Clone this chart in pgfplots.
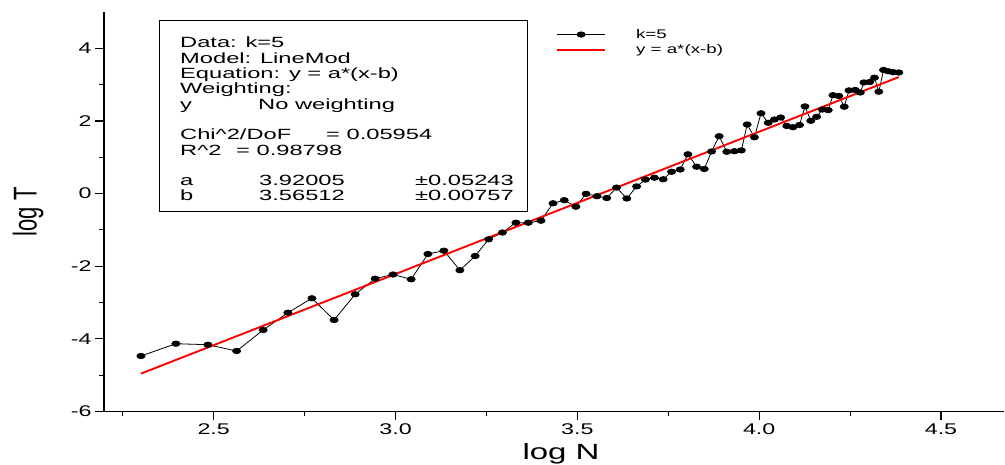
\documentclass[border=0pt]{standalone}
\usepackage{fontspec}
\setmainfont{Liberation Sans}
\usepackage{graphicx}
\usepackage{pgfplots}
\pgfplotsset{compat=1.18}
\newcommand{\hs}[1]{\scalebox{1.5}[1]{#1}}
\newcommand{\hb}[1]{\scalebox{1.6}[1]{#1}}
\newcommand{\bt}[3]{\node[anchor=base west, inner sep=0pt, font=\fontsize{14.8}{16}\selectfont] at ({#1pt-104pt},{411.4pt-#2pt}) {\hb{#3}};}
\begin{document}
\begin{tikzpicture}
\useasboundingbox (-104pt,-52.6pt) rectangle (901pt,411.4pt);
\begin{axis}[
  at={(0pt,0pt)}, anchor=south west,
  scale only axis, width=900pt, height=399.3pt,
  xmin=2.1983, xmax=4.6733, ymin=-6, ymax=5,
  axis lines*=left,
  axis line style={line width=1.2pt},
  xtick={2.5,3,3.5,4,4.5}, minor xtick={2.25,2.75,3.25,3.75,4.25},
  ytick={-6,-4,-2,0,2,4}, minor ytick={-5,-3,-1,1,3},
  tick align=outside,
  major tick length=9pt, minor tick length=5pt,
  every tick/.style={black, line width=1.1pt},
  /pgf/number format/assume math mode=true,
  xticklabel={\hs{\pgfmathprintnumber[fixed,fixed zerofill,precision=1]{\tick}}},
  yticklabel={\hs{\pgfmathprintnumber{\tick}}},
  tick label style={font=\fontsize{15.5}{17}\selectfont},
  xlabel={\hs{log N}}, ylabel={\scalebox{1}[1.5]{log T}},
  label style={font=\fontsize{22}{24}\selectfont},
  xlabel style={at={(axis description cs:0.5078,-0.106)}, anchor=center},
  ylabel style={at={(axis description cs:-0.0844,0.4994)}, anchor=center},
  legend image code/.code={\draw[mark repeat=2,mark phase=2,#1] plot coordinates {(0pt,0pt)(24pt,0pt)(48pt,0pt)};},
  legend style={at={(rel axis cs:0.5022,0.960)}, anchor=north west, draw=none, fill=none,
    inner sep=0pt, row sep=2.5pt, font=\fontsize{12.5}{14}\selectfont,
    /tikz/every odd column/.append style={column sep=29pt},
    nodes={inner sep=1pt}},
  legend cell align=left,
  clip=false,
]
\addplot[black, line width=0.8pt, mark=*, mark size=2.7pt, mark options={xscale=1.5, fill=black, solid}] coordinates {
(2.300,-4.474) (2.396,-4.135) (2.484,-4.163) (2.563,-4.336) (2.636,-3.758)
(2.704,-3.281) (2.770,-2.884) (2.831,-3.482) (2.889,-2.774) (2.944,-2.344)
(2.993,-2.229) (3.043,-2.361) (3.089,-1.664) (3.133,-1.573) (3.177,-2.110)
(3.219,-1.719) (3.256,-1.259) (3.294,-1.072) (3.331,-0.802) (3.365,-0.802)
(3.400,-0.747) (3.433,-0.267) (3.464,-0.182) (3.496,-0.361) (3.524,-0.006)
(3.554,-0.072) (3.581,-0.121) (3.608,0.165) (3.636,-0.135) (3.663,0.198)
(3.687,0.386) (3.712,0.438) (3.736,0.394) (3.759,0.601) (3.783,0.664)
(3.804,1.083) (3.828,0.741) (3.849,0.678) (3.869,1.160) (3.890,1.581)
(3.911,1.152) (3.932,1.168) (3.951,1.190) (3.967,1.904) (3.987,1.551)
(4.005,2.212) (4.025,1.950) (4.042,2.041) (4.059,2.096) (4.076,1.862)
(4.093,1.829) (4.111,1.890) (4.126,2.402) (4.142,2.006) (4.158,2.116)
(4.174,2.317) (4.190,2.300) (4.203,2.711) (4.219,2.689) (4.234,2.394)
(4.247,2.843) (4.264,2.854) (4.278,2.785) (4.288,3.061) (4.304,3.074)
(4.317,3.193) (4.329,2.807) (4.342,3.405) (4.355,3.369) (4.369,3.344)
(4.384,3.336)
};
\addlegendentry{\hs{k=5}}
\addplot[color=red, line width=1.9pt] coordinates {(2.300,-4.959) (4.384,3.210)};
\addlegendentry{\hs{y = a*(x-b)}}
\end{axis}
\draw[line width=1pt, fill=white] (56pt,390.4pt) rectangle (423.5pt,199.4pt);
\bt{180}{48}{Data: k=5}
\bt{180}{63.3}{Model: LineMod}
\bt{180}{78.6}{Equation: y = a*(x-b)}
\bt{180}{93.9}{Weighting:}
\bt{180}{109.2}{y}
\bt{258}{109.2}{No weighting}
\bt{180}{139.8}{Chi\textasciicircum 2/DoF}
\bt{326}{139.8}{= 0.05954}
\bt{180}{155.1}{R\textasciicircum 2}
\bt{236}{155.1}{= 0.98798}
\bt{180}{185.7}{a}
\bt{259}{185.7}{3.92005}
\bt{415}{185.7}{±0.05243}
\bt{180}{201}{b}
\bt{259}{201}{3.56512}
\bt{415}{201}{±0.00757}
\end{tikzpicture}
\end{document}
